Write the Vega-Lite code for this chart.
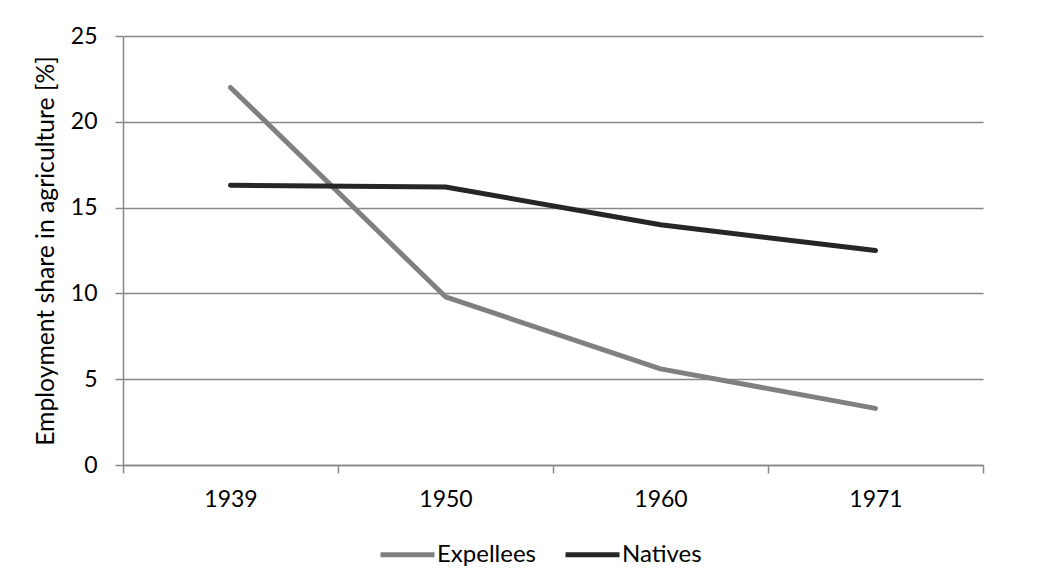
{
  "$schema": "https://vega.github.io/schema/vega-lite/v6.json",
  "autosize": {"type": "none"},
  "width": 860,
  "height": 429,
  "padding": {"left": 123, "top": 36, "right": 71, "bottom": 120},
  "background": "#ffffff",
  "config": {
    "font": "Lato",
    "view": {"stroke": null}
  },
  "data": {
    "values": [
      {"year": "1939", "group": "Expellees", "share": 22.0},
      {"year": "1950", "group": "Expellees", "share": 9.8},
      {"year": "1960", "group": "Expellees", "share": 5.6},
      {"year": "1971", "group": "Expellees", "share": 3.3},
      {"year": "1939", "group": "Natives", "share": 16.3},
      {"year": "1950", "group": "Natives", "share": 16.2},
      {"year": "1960", "group": "Natives", "share": 14.0},
      {"year": "1971", "group": "Natives", "share": 12.5}
    ]
  },
  "mark": {"type": "line", "strokeWidth": 5, "strokeCap": "round", "strokeJoin": "round"},
  "encoding": {
    "x": {
      "field": "year",
      "type": "ordinal",
      "scale": {"type": "band", "paddingInner": 0, "paddingOuter": 0},
      "axis": {
        "title": null,
        "labelAngle": 0,
        "labelFontSize": 23,
        "labelColor": "#000000",
        "labelPadding": 15,
        "tickBand": "extent",
        "tickSize": 8,
        "tickColor": "#888888",
        "tickWidth": 1.5,
        "domainColor": "#888888",
        "domainWidth": 1.5,
        "grid": false
      }
    },
    "y": {
      "field": "share",
      "type": "quantitative",
      "scale": {"domain": [0, 25], "nice": false},
      "axis": {
        "title": "Employment share in agriculture [%]",
        "titleFontSize": 24.7,
        "titleFontWeight": "normal",
        "titleColor": "#000000",
        "titlePadding": 12,
        "values": [0, 5, 10, 15, 20, 25],
        "labelFontSize": 23,
        "labelColor": "#000000",
        "labelPadding": 18,
        "tickSize": 8,
        "tickColor": "#888888",
        "tickWidth": 1.5,
        "domainColor": "#888888",
        "domainWidth": 1.5,
        "grid": true,
        "gridColor": "#888888",
        "gridWidth": 1.5
      }
    },
    "color": {
      "field": "group",
      "type": "nominal",
      "scale": {"domain": ["Expellees", "Natives"], "range": ["#808080", "#262626"]},
      "legend": {
        "title": null,
        "orient": "none",
        "direction": "horizontal",
        "legendX": 255,
        "legendY": 489,
        "padding": 0,
        "symbolType": "stroke",
        "symbolSize": 2916,
        "symbolStrokeWidth": 5,
        "labelFontSize": 24,
        "labelColor": "#000000",
        "labelOffset": 0,
        "columnPadding": 18
      }
    }
  }
}
